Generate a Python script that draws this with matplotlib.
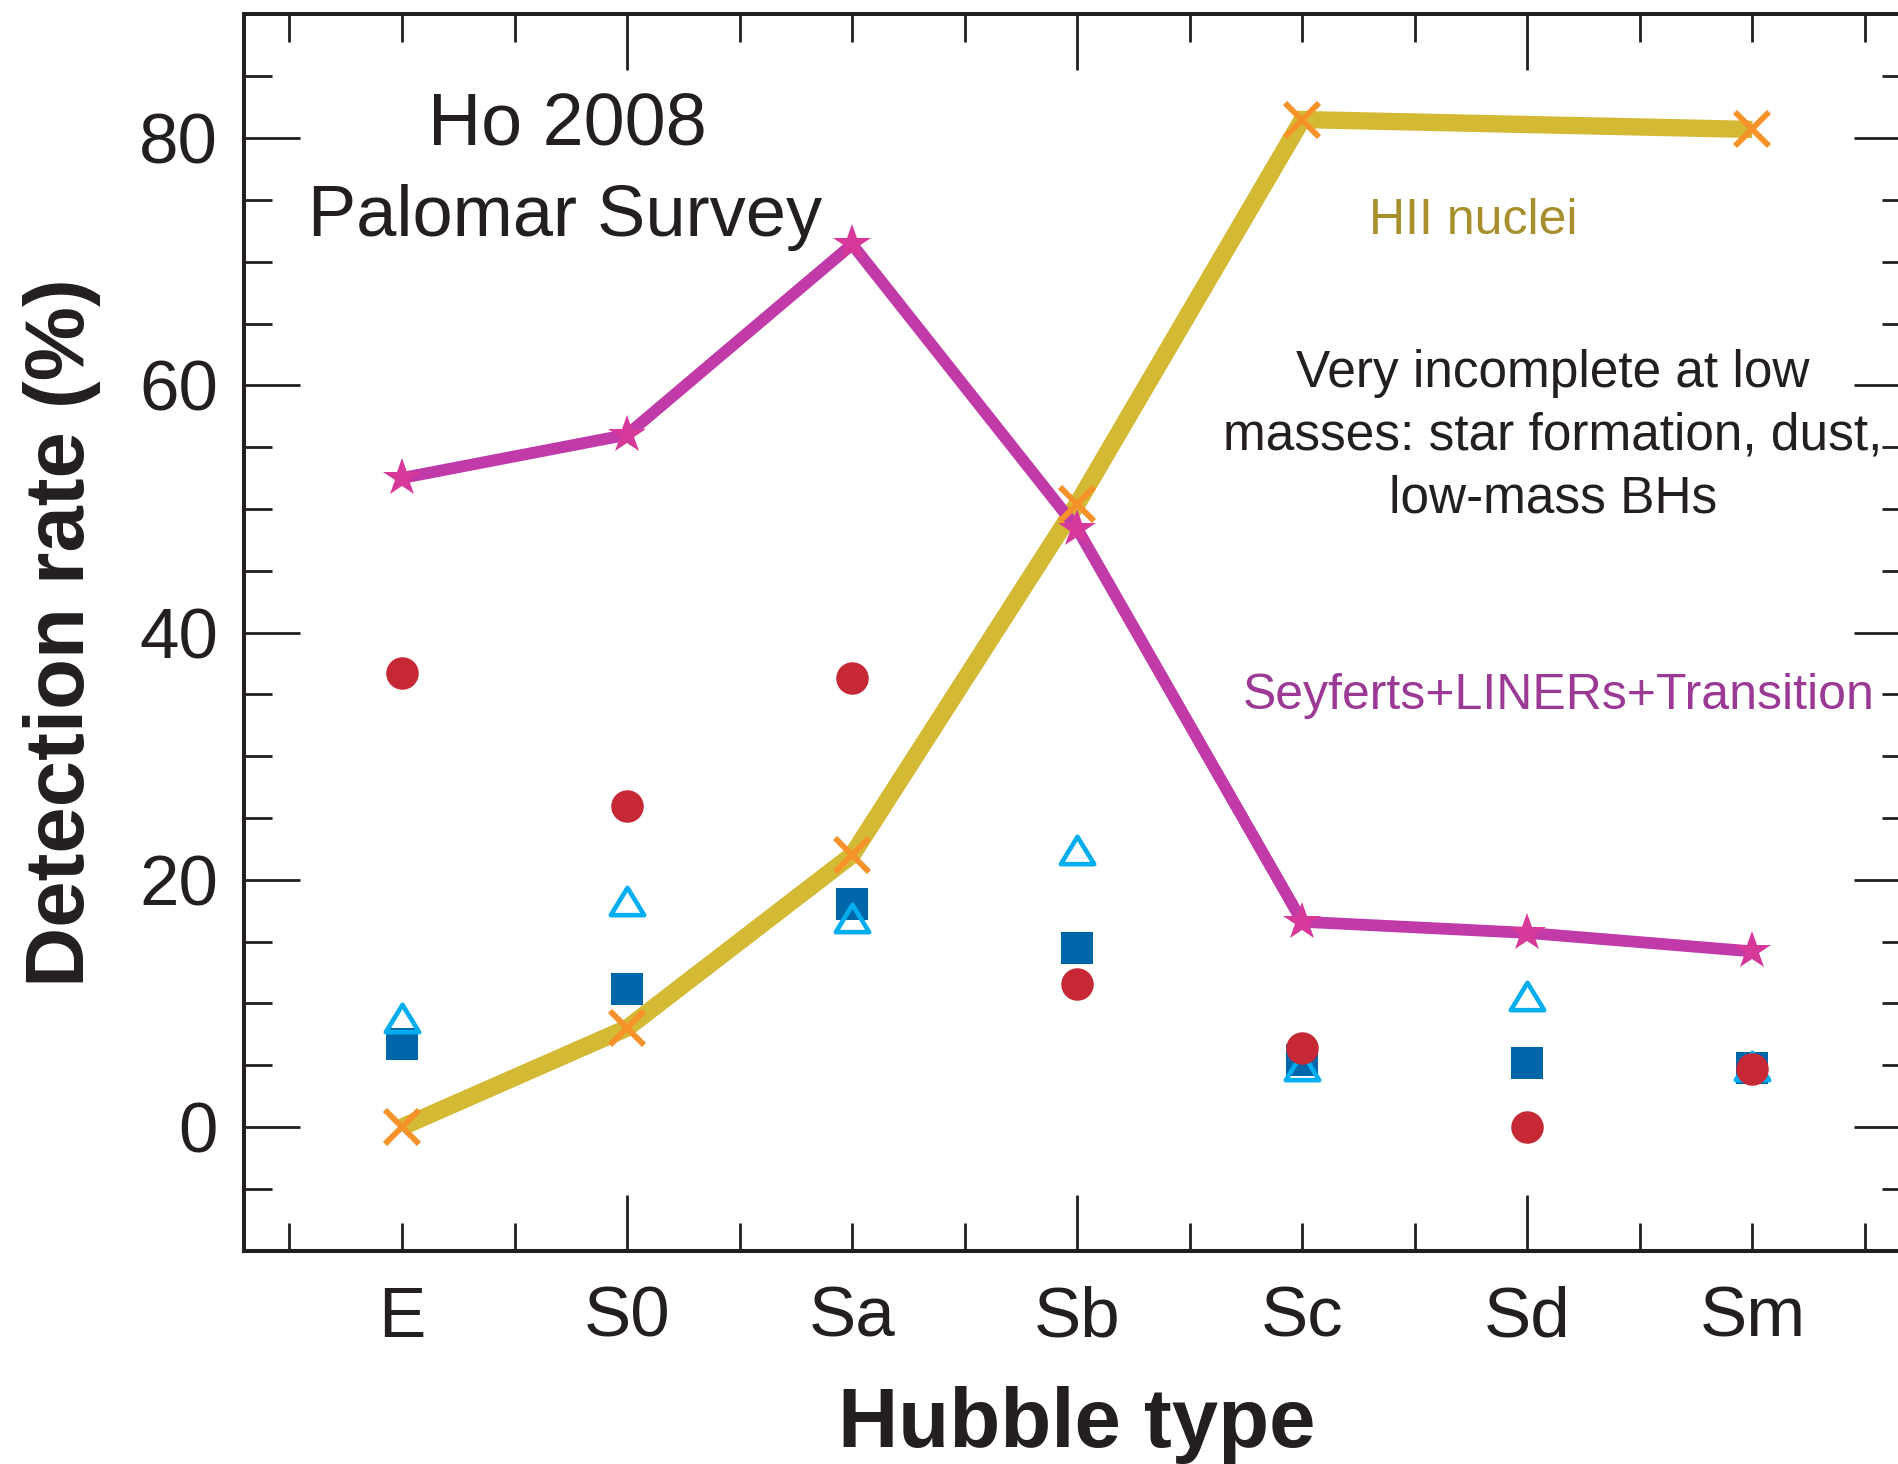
import numpy as np
import matplotlib
matplotlib.use("Agg")
import matplotlib.pyplot as plt
from matplotlib.path import Path
from matplotlib.markers import MarkerStyle

plt.rcParams['font.family'] = ['Liberation Sans', 'DejaVu Sans']

# Hubble types along the x axis (plotted at 0..6)
types = ['E', 'S0', 'Sa', 'Sb', 'Sc', 'Sd', 'Sm']

# detection rates (%) per type
hii_x = [0, 1, 2, 3, 4, 6]
hii = [0.0, 8.0, 22.0, 50.4, 81.5, 80.7]
agn = [52.5, 56.0, 71.4, 48.4, 16.6, 15.7, 14.2]      # Seyferts+LINERs+Transition
liners = [36.7, 26.0, 36.3, 11.6, 6.4, 0.0, 4.7]
seyferts = [6.7, 11.2, 18.0, 14.5, 5.4, 5.2, 4.8]
transition = [8.8, 18.3, 16.9, 22.4, 4.9, 10.6, 4.9]

ink = '#231f20'
yellow = '#d4b935'
orange = '#f5922a'
magenta = '#c13ba8'
star_col = '#d6399a'
red = '#c62835'
blue = '#0066aa'
cyan = '#00aeef'

x = np.arange(len(types))

fig = plt.figure(figsize=(18.98, 14.64), dpi=100)
ax = fig.add_axes([0.1288, 0.1458, 0.8775, 0.8443])

# open triangle, a bit flatter than the default one
tri = Path([(0, 0.82), (-1, -0.82), (1, -0.82), (0, 0.82)],
           [Path.MOVETO, Path.LINETO, Path.LINETO, Path.CLOSEPOLY])
tri_marker = MarkerStyle(tri, joinstyle='round')

ax.plot(x, seyferts, ls='none', marker='s', ms=23, mew=0, color=blue, zorder=2)
ax.plot(x, transition, ls='none', marker=tri_marker, ms=24, mew=3.3,
        mfc='none', mec=cyan, zorder=2.1)
ax.plot(x, liners, ls='none', marker='o', ms=23.4, mew=0, color=red, zorder=2.2)

ax.plot(hii_x, hii, color=yellow, lw=12.5, solid_joinstyle='miter',
        solid_capstyle='butt', zorder=3)
ax.plot(x, agn, color=magenta, lw=8.5, solid_joinstyle='miter',
        solid_capstyle='butt', zorder=3.1)
ax.plot(hii_x, hii, ls='none', marker='x', ms=25, mew=4.2, color=orange, zorder=3.2)
ax.plot(x, agn, ls='none', marker='*', ms=29, mew=0, color=star_col, zorder=3.3)

ax.text(0.733, 79.5, 'Ho 2008', fontsize=53, ha='center', va='baseline', color=ink)
ax.text(0.724, 72.1, 'Palomar Survey', fontsize=52, ha='center', va='baseline', color=ink)
ax.text(4.758, 72.24, 'HII nuclei', fontsize=36, ha='center', va='baseline',
        color='#a68f2c')
# va='baseline' on a multi-line text pins the last line
ax.text(5.114, 49.67, 'Very incomplete at low\nmasses: star formation, dust,\nlow-mass BHs',
        fontsize=37, ha='center', va='baseline', multialignment='center',
        linespacing=1.37, color=ink)
ax.text(5.14, 33.79, 'Seyferts+LINERs+Transition', fontsize=36, ha='center',
        va='baseline', color='#9b3a94')

ax.set_xlim(-0.7, 6.7)
ax.set_ylim(-10, 90)

ax.set_xticks(x, types)
ax.set_xticks(np.arange(-0.5, 7, 1), minor=True)
ax.set_yticks(range(0, 81, 20))
ax.set_yticks(np.arange(-5, 90, 5), minor=True)

ax.tick_params(which='both', direction='in', top=True, right=True,
               width=2, color=ink, labelsize=51, labelcolor=ink)
ax.tick_params(which='minor', length=20)
ax.tick_params(axis='x', which='major', length=20, pad=25.5)
ax.tick_params(axis='y', which='major', length=40, pad=19)

# every other type gets a long tick
for i in (1, 3, 5):
    t = ax.xaxis.get_major_ticks()[i]
    t.tick1line.set_markersize(40)
    t.tick2line.set_markersize(40)

for s in ax.spines.values():
    s.set_linewidth(2.9)
    s.set_color(ink)

ax.set_xlabel('Hubble type', fontsize=60, fontweight='bold', color=ink, va='baseline')
ax.xaxis.set_label_coords(0.5, -0.159)
ax.set_ylabel('Detection rate (%)', fontsize=60, fontweight='bold', color=ink, va='center')
ax.yaxis.set_label_coords(-0.1096, 0.5)

fig.savefig('out.png', dpi=100)
